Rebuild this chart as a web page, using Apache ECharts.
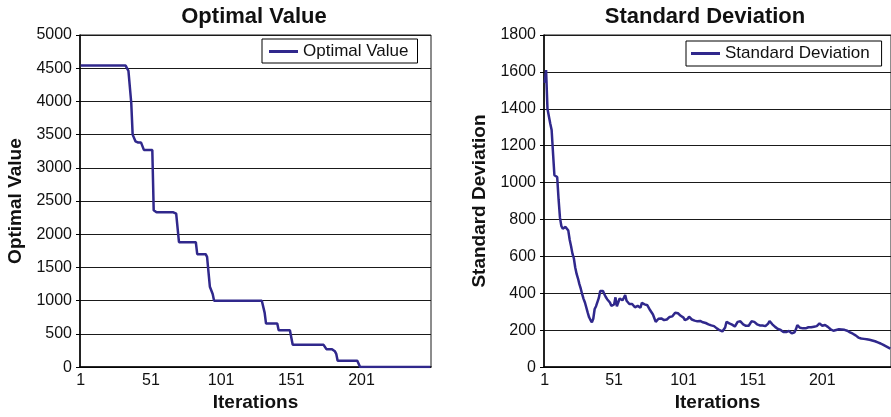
<!DOCTYPE html>
<html>
<head>
<meta charset="utf-8">
<script src="https://cdn.jsdelivr.net/npm/echarts@6/dist/echarts.min.js"></script>
<style>
  html, body { margin: 0; padding: 0; background: #ffffff; }
  #chart { width: 891px; height: 417px; }
</style>
</head>
<body>
<div id="chart"></div>
<script>
// Iteration numbers shown along both x axes
const iterations = [];
for (let i = 1; i <= 250; i++) iterations.push(String(i));

// Best objective value found at each iteration
const optimalValue = [
  4540,4540,4540,4540,4540,4540,4540,4540,4540,4540,
  4540,4540,4540,4540,4540,4540,4540,4540,4540,4540,
  4540,4540,4540,4540,4540,4540,4540,4540,4540,4540,
  4540,4540,4540,4520,4460,4450,3980,3500,3490,3400,
  3380,3380,3380,3380,3380,3270,3270,3270,3270,3270,
  3270,3270,2360,2330,2330,2330,2330,2330,2330,2330,
  2330,2330,2330,2330,2330,2330,2330,2330,2310,2300,
  1880,1880,1880,1880,1880,1880,1880,1880,1880,1880,
  1880,1880,1880,1700,1700,1700,1700,1700,1700,1700,
  1660,1640,1210,1200,1100,1000,1000,1000,1000,1000,
  1000,1000,1000,1000,1000,1000,1000,1000,1000,1000,
  1000,1000,1000,1000,1000,1000,1000,1000,1000,1000,
  1000,1000,1000,1000,1000,1000,1000,1000,1000,1000,
  1000,820,655,655,655,655,655,655,655,655,
  655,555,555,555,555,555,555,555,555,555,
  555,335,335,335,335,335,335,335,335,335,
  335,335,335,335,335,335,335,335,335,335,
  335,335,335,335,335,270,270,270,270,270,
  270,240,200,95,95,95,95,95,95,95,
  95,95,95,95,95,95,95,95,95,0,
  0,0,0,0,0,0,0,0,0,0,
  0,0,0,0,0,0,0,0,0,0,
  0,0,0,0,0,0,0,0,0,0,
  0,0,0,0,0,0,0,0,0,0,
  0,0,0,0,0,0,0,0,0,0
];

// Standard deviation of the population at each iteration
const standardDeviation = [
  1540,1610,1400,1360,1320,1285,1160,1040,1035,1030,
  910,810,765,750,755,760,750,740,690,655,
  615,590,540,505,480,450,425,395,370,350,
  340,295,270,255,243,262,315,330,340,375,
  412,418,412,395,380,368,360,350,332,334,
  340,378,330,322,372,365,362,375,390,360,
  352,342,338,342,332,324,328,332,325,322,
  348,348,340,344,335,325,308,300,285,265,
  245,235,262,268,264,258,255,260,258,265,
  272,282,275,285,295,303,292,282,278,275,
  268,255,250,262,273,265,258,255,252,250,
  248,252,250,246,243,241,239,237,232,228,
  226,224,222,216,210,205,200,196,193,192,
  215,246,240,237,233,230,228,220,230,245,
  255,248,238,232,226,224,223,224,232,248,
  255,245,238,232,228,226,224,225,224,222,
  219,236,250,242,232,226,218,210,207,204,
  201,196,190,183,190,200,196,188,183,185,
  189,205,228,220,213,210,210,211,210,212,
  216,214,216,219,219,210,222,232,237,230,
  224,226,228,222,218,214,205,197,197,199,
  201,203,205,205,204,203,202,201,197,192,
  188,185,181,178,172,166,160,157,155,154,
  153,152,151,150,148,146,144,142,140,137,
  134,131,128,124,120,116,112,108,104,100
];

const FONT = '"Liberation Sans", Arial, Helvetica, sans-serif';
const LINE_COLOR = '#30288c';
const INK = '#111111';

function xAxisFor(gridIndex) {
  return {
    type: 'category',
    gridIndex: gridIndex,
    data: iterations,
    boundaryGap: true,
    name: 'Iterations',
    nameLocation: 'middle',
    nameGap: 24,
    nameTextStyle: { fontFamily: FONT, fontSize: 19, fontWeight: 'bold', color: INK },
    axisLine: { show: true, lineStyle: { color: '#000', width: 1.5 } },
    axisTick: { show: false },
    axisLabel: { interval: 49, margin: 5, fontFamily: FONT, fontSize: 16, color: INK },
    splitLine: { show: false }
  };
}

function yAxisFor(gridIndex, name, max, interval) {
  return {
    type: 'value',
    gridIndex: gridIndex,
    min: 0,
    max: max,
    interval: interval,
    name: name,
    nameLocation: 'middle',
    nameGap: 55,
    nameTextStyle: { fontFamily: FONT, fontSize: 19, fontWeight: 'bold', color: INK },
    axisLine: { show: true, lineStyle: { color: '#000', width: 1.5 } },
    axisTick: { show: true, length: 4, lineStyle: { color: '#000', width: 1 } },
    axisLabel: {
      margin: 8, fontFamily: FONT, fontSize: 16, color: INK,
      formatter: function (v) { return String(v); }
    },
    splitLine: { show: true, lineStyle: { color: '#1a1a1a', width: 1.2 } }
  };
}

function legendFor(name, left, top, padding) {
  return {
    data: [name],
    left: left,
    top: top,
    padding: padding,
    borderColor: '#000',
    borderWidth: 1,
    backgroundColor: '#fff',
    icon: 'rect',
    itemWidth: 29,
    itemHeight: 3,
    selectedMode: false,
    textStyle: { fontFamily: FONT, fontSize: 17, color: INK }
  };
}

const chart = echarts.init(document.getElementById('chart'), null, { renderer: 'canvas' });

chart.setOption({
  animation: false,
  backgroundColor: '#ffffff',
  grid: [
    { left: 80, top: 35, width: 351, height: 334, show: true, borderColor: '#1a1a1a', borderWidth: 1, backgroundColor: 'transparent' },
    { left: 544, top: 35, width: 351, height: 334, show: true, borderColor: '#1a1a1a', borderWidth: 1, backgroundColor: 'transparent' }
  ],
  xAxis: [xAxisFor(0), xAxisFor(1)],
  yAxis: [
    yAxisFor(0, 'Optimal Value', 5000, 500),
    yAxisFor(1, 'Standard Deviation', 1800, 200)
  ],
  legend: [
    legendFor('Optimal Value', 262, 39, [4, 9, 3, 7]),
    legendFor('Standard Deviation', 686, 41, [4, 12, 4, 5])
  ],
  graphic: [
    {
      type: 'text', x: 254, y: 16.5, silent: true,
      style: { text: 'Optimal Value', font: 'bold 22px ' + FONT, fill: INK, align: 'center', verticalAlign: 'middle' }
    },
    {
      type: 'text', x: 705, y: 16.5, silent: true,
      style: { text: 'Standard Deviation', font: 'bold 22px ' + FONT, fill: INK, align: 'center', verticalAlign: 'middle' }
    }
  ],
  series: [
    {
      name: 'Optimal Value',
      type: 'line',
      xAxisIndex: 0,
      yAxisIndex: 0,
      data: optimalValue,
      symbol: 'none',
      lineStyle: { color: LINE_COLOR, width: 2.5 },
      itemStyle: { color: LINE_COLOR }
    },
    {
      name: 'Standard Deviation',
      type: 'line',
      xAxisIndex: 1,
      yAxisIndex: 1,
      data: standardDeviation,
      symbol: 'none',
      lineStyle: { color: LINE_COLOR, width: 2.5 },
      itemStyle: { color: LINE_COLOR }
    }
  ]
});
</script>
</body>
</html>
